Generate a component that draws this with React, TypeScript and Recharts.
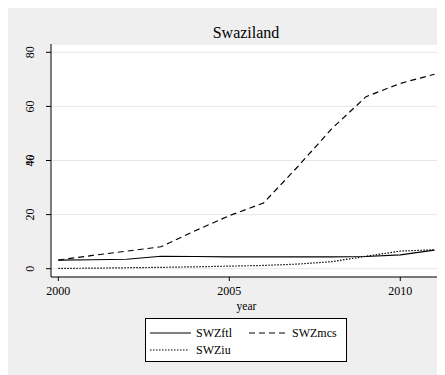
import React from 'react';
import { LineChart, Line, XAxis, YAxis, CartesianGrid, Legend } from 'recharts';

const years = [2000, 2001, 2002, 2003, 2004, 2005, 2006, 2007, 2008, 2009, 2010, 2011];
const swzFtl = [3.2, 3.3, 3.5, 4.6, 4.5, 4.4, 4.4, 4.4, 4.4, 4.5, 5.1, 6.9];
const swzMcs = [3.2, 4.9, 6.5, 8.1, 14.0, 19.6, 24.3, 37.7, 51.8, 63.6, 68.5, 71.9];
const swzIu = [0.1, 0.2, 0.35, 0.5, 0.7, 0.95, 1.2, 1.7, 2.6, 4.6, 6.5, 7.0];
const xTicks = [2000, 2005, 2010];
const yTicks = [0, 20, 40, 60, 80];

const data = years.map((y, i) => ({ year: y, SWZftl: swzFtl[i], SWZmcs: swzMcs[i], SWZiu: swzIu[i] }));

const FONT = "'Liberation Serif', 'Times New Roman', Times, 'DejaVu Serif', serif";

const XTick = (props: any) => {
  const { x, y, payload } = props;
  return (
    <text x={x} y={y + 8} textAnchor="middle" dy="0.35em" style={{ fontFamily: FONT }} fontSize={12} fill="#000">
      {payload.value}
    </text>
  );
};

const YTick = (props: any) => {
  const { y, payload } = props;
  const cx = 22;
  return (
    <text x={cx} y={y} transform={`rotate(-90 ${cx} ${y})`} textAnchor="middle" dy="0.35em" style={{ fontFamily: FONT }} fontSize={12} fill="#000">
      {payload.value}
    </text>
  );
};

const YLabel = (props: any) => {
  const vb = props.viewBox || {};
  const cx = 22;
  const cy = vb.y + vb.height / 2;
  return (
    <text x={cx} y={cy} transform={`rotate(-90 ${cx} ${cy})`} textAnchor="middle" dy="0.35em" style={{ fontFamily: FONT }} fontSize={12} fill="#000">
      %
    </text>
  );
};

const XLabel = (props: any) => {
  const vb = props.viewBox || {};
  const cx = vb.x + vb.width / 2;
  return (
    <text x={cx} y={vb.y + 29} textAnchor="middle" dy="0.35em" style={{ fontFamily: FONT }} fontSize={11.5} fill="#000">
      year
    </text>
  );
};

const LegendBox = () => (
  <svg width={202} height={44} style={{ display: 'block' }}>
    <rect x={0.5} y={0.5} width={201} height={43} fill="#fff" stroke="#000" strokeWidth={1} />
    <line x1={5} x2={46} y1={15} y2={15} stroke="#000" strokeWidth={1.2} />
    <text x={51} y={15} dy="0.35em" style={{ fontFamily: FONT }} fontSize={12} fill="#000">SWZftl</text>
    <line x1={104} x2={142} y1={15} y2={15} stroke="#000" strokeWidth={1.2} strokeDasharray="6 4" />
    <text x={147} y={15} dy="0.35em" style={{ fontFamily: FONT }} fontSize={12} fill="#000">SWZmcs</text>
    <line x1={5} x2={44} y1={32} y2={32} stroke="#000" strokeWidth={1.2} strokeDasharray="1.5 1.5" />
    <text x={51} y={32} dy="0.35em" style={{ fontFamily: FONT }} fontSize={12} fill="#000">SWZiu</text>
  </svg>
);

export default function App() {
  return (
    <div style={{ position: 'relative', width: 437, height: 367, background: '#efefef', fontFamily: FONT }}>
      <div
        style={{
          position: 'absolute',
          left: 0,
          width: 476,
          top: 16,
          textAlign: 'center',
          fontFamily: FONT,
          fontSize: 16,
          lineHeight: '18px',
          color: '#000',
          zIndex: 2,
        }}
      >
        Swaziland
      </div>
      <LineChart width={437} height={367} data={data} margin={{ top: 36, right: 3, left: 0, bottom: 0 }}>
        <CartesianGrid vertical={false} stroke="#e6e6e6" fill="#fff" strokeWidth={1} />
        <XAxis
          dataKey="year"
          type="number"
          domain={[1999.786, 2011.22]}
          ticks={xTicks}
          allowDataOverflow
          height={98}
          tickSize={4}
          tickLine={{ stroke: '#000' }}
          axisLine={{ stroke: '#000' }}
          tick={<XTick />}
          label={<XLabel />}
        />
        <YAxis
          type="number"
          domain={[-3.07, 83.07]}
          ticks={yTicks}
          allowDataOverflow
          width={43}
          tickSize={5}
          tickLine={{ stroke: '#000' }}
          axisLine={{ stroke: '#000' }}
          tick={<YTick />}
          label={<YLabel />}
        />
        <Legend
          verticalAlign="middle"
          align="center"
          layout="horizontal"
          wrapperStyle={{ position: 'absolute', top: 310, left: 137, width: 202, height: 44 }}
          content={() => <LegendBox />}
        />
        <Line type="linear" dataKey="SWZftl" stroke="#000" strokeWidth={1.2} dot={false} isAnimationActive={false} />
        <Line type="linear" dataKey="SWZmcs" stroke="#000" strokeWidth={1.2} strokeDasharray="6 4" dot={false} isAnimationActive={false} />
        <Line type="linear" dataKey="SWZiu" stroke="#000" strokeWidth={1.2} strokeDasharray="1.5 1.5" dot={false} isAnimationActive={false} />
      </LineChart>
    </div>
  );
}
